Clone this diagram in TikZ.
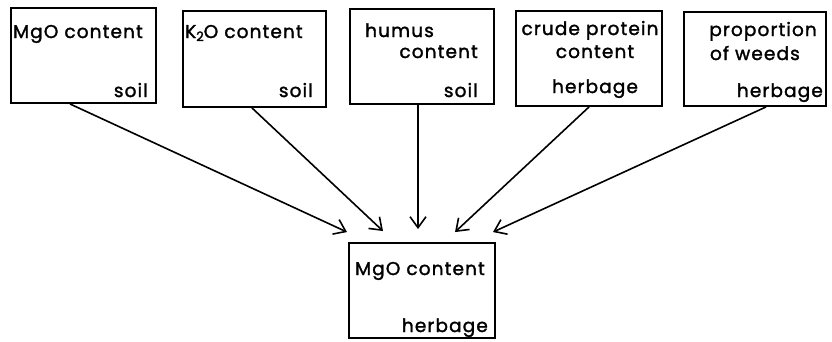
\documentclass[tikz,border=0pt]{standalone}
\usepackage{fontspec}
\setmainfont[LetterSpace=6,FakeBold=1.6]{Poppins}
\usetikzlibrary{arrows.meta}
\begin{document}
\begin{tikzpicture}[x=1pt,y=-1pt,
  box/.style={draw, line width=1.9pt, rectangle, inner sep=0pt},
  lbl/.style={inner sep=0pt, font=\fontsize{18.5}{22}\selectfont},
  arr/.style={line width=1.6pt, -{Straight Barb[length=11pt,width=16pt,line width=1.6pt]}}]
\useasboundingbox (0,0) rectangle (832,341);
\fill[white] (0,0) rectangle (832,341);

% source boxes
\node[box, minimum width=145pt, minimum height=95pt] (s1) at (83.5,55.5) {};
\node[box, minimum width=143pt, minimum height=96pt] (s2) at (254.5,59) {};
\node[box, minimum width=144pt, minimum height=95pt] (s3) at (422,56.5) {};
\node[box, minimum width=146pt, minimum height=95pt] (s4) at (589,58.5) {};
\node[box, minimum width=142pt, minimum height=94pt] (s5) at (755,59) {};
% target box
\node[box, minimum width=146pt, minimum height=95pt] (t) at (422,290.5) {};

% labels
\node[lbl, anchor=base west] (s1a) at (13,38) {MgO content};
\node[lbl, anchor=base east] (s1b) at (148,97) {soil};
\node[lbl, anchor=base west] (s2a) at (185,38) {K\raisebox{-0.3ex}{\fontsize{13}{14}\selectfont 2}O content};
\node[lbl, anchor=base east] (s2b) at (313,97) {soil};
\node[lbl, anchor=base west] (s3a) at (365,37) {humus};
\node[lbl, anchor=base east] (s3b) at (478,58) {content};
\node[lbl, anchor=base east] (s3c) at (478,97) {soil};
\node[lbl, anchor=base] (s4a) at (590,35) {crude protein};
\node[lbl, anchor=base] (s4b) at (595,58) {content};
\node[lbl, anchor=base] (s4c) at (595,93) {herbage};
\node[lbl, anchor=base east] (s5a) at (817,36) {proportion};
\node[lbl, anchor=base east] (s5b) at (800,60) {of weeds};
\node[lbl, anchor=base east] (s5c) at (823,97) {herbage};
\node[lbl, anchor=base west] (ta) at (355,275) {MgO content};
\node[lbl, anchor=base east] (tb) at (488,332) {herbage};

% arrow end points above the target box
\coordinate (e1) at ([xshift=-75pt,yshift=10pt]t.north);
\coordinate (e2) at ([xshift=-39pt,yshift=11pt]t.north);
\coordinate (e3) at ([xshift=-4pt,yshift=13pt]t.north);
\coordinate (e4) at ([xshift=33pt,yshift=10pt]t.north);
\coordinate (e5) at ([xshift=71pt,yshift=10pt]t.north);

\draw[arr] ([xshift=-13.5pt]s1.south) -- (e1);
\draw[arr] ([xshift=-2.5pt]s2.south) -- (e2);
\draw[arr] ([xshift=-4pt]s3.south) -- (e3);
\draw[arr] (s4.south) -- (e4);
\draw[arr] ([xshift=11pt]s5.south) -- (e5);
\end{tikzpicture}
\end{document}
